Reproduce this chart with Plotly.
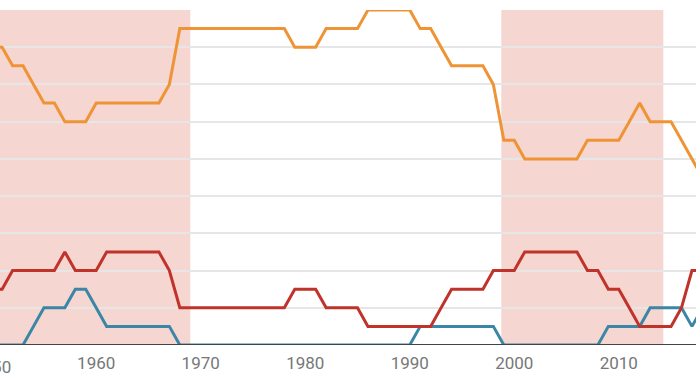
import plotly.graph_objects as go

years = list(range(1950, 2019))

orange = [16, 16, 15, 15, 14, 13, 13, 12, 12, 12,   # 1950-1959
          13, 13, 13, 13, 13, 13, 13, 14, 17, 17,   # 1960-1969
          17, 17, 17, 17, 17, 17, 17, 17, 17, 16,   # 1970-1979
          16, 16, 17, 17, 17, 17, 18, 18, 18, 18,   # 1980-1989
          18, 17, 17, 16, 15, 15, 15, 15, 14, 11,   # 1990-1999
          11, 10, 10, 10, 10, 10, 10, 11, 11, 11,   # 2000-2009
          11, 12, 13, 12, 12, 12, 11, 10, 9]        # 2010-2018

red = [3, 3, 4, 4, 4, 4, 4, 5, 4, 4,
       4, 5, 5, 5, 5, 5, 5, 4, 2, 2,
       2, 2, 2, 2, 2, 2, 2, 2, 2, 3,
       3, 3, 2, 2, 2, 2, 1, 1, 1, 1,
       1, 1, 1, 2, 3, 3, 3, 3, 4, 4,
       4, 5, 5, 5, 5, 5, 5, 4, 4, 3,
       3, 2, 1, 1, 1, 1, 2, 4, 4]

blue = [0, 0, 0, 0, 1, 2, 2, 2, 3, 3,
        2, 1, 1, 1, 1, 1, 1, 1, 0, 0,
        0, 0, 0, 0, 0, 0, 0, 0, 0, 0,
        0, 0, 0, 0, 0, 0, 0, 0, 0, 0,
        0, 1, 1, 1, 1, 1, 1, 1, 1, 0,
        0, 0, 0, 0, 0, 0, 0, 0, 0, 1,
        1, 1, 1, 2, 2, 2, 2, 1, 2]

shaded_periods = [(1940, 1969), (1998.76, 2014.26)]
tick_years = [1950, 1960, 1970, 1980, 1990, 2000, 2010, 2020]
tick_labels = [str(y) for y in tick_years]

x_range = [1950.796, 2017.387]
y_max = 18
tick_font = dict(family="Roboto", size=17, color="#777777")

fig = go.Figure()
fig.add_trace(go.Scatter(x=years, y=blue, mode="lines",
                         line=dict(color="#3b86a6", width=3), hoverinfo="skip"))
fig.add_trace(go.Scatter(x=years, y=red, mode="lines",
                         line=dict(color="#c0332b", width=3), hoverinfo="skip"))
fig.add_trace(go.Scatter(x=years, y=orange, mode="lines",
                         line=dict(color="#ef9436", width=3), hoverinfo="skip"))

shapes = []
for x0, x1 in shaded_periods:
    shapes.append(dict(type="rect", xref="x", yref="y", x0=x0, x1=x1, y0=0, y1=y_max,
                       fillcolor="#f5d6d0", line=dict(width=0), layer="below"))
shapes.append(dict(type="line", xref="paper", yref="y", x0=0, x1=1, y0=0, y1=0,
                   line=dict(color="#444444", width=2), layer="above"))

# the 1950 tick sits just left of the visible range; place its label in paper coords
span = x_range[1] - x_range[0]
annotations = [dict(x=(tick_years[0] - x_range[0]) / span, y=0, xref="paper", yref="y",
                    text=tick_labels[0], showarrow=False, xanchor="center",
                    yanchor="top", yshift=-10, font=tick_font)]

fig.update_layout(
    width=696, height=385,
    margin=dict(l=0, r=0, t=10, b=40),
    paper_bgcolor="white", plot_bgcolor="white",
    showlegend=False,
    shapes=shapes,
    annotations=annotations,
    xaxis=dict(range=x_range, tickvals=tick_years[1:], ticktext=tick_labels[1:],
               showgrid=False, zeroline=False, showline=False, ticks="",
               tickfont=tick_font, ticklabelstandoff=6),
    yaxis=dict(range=[0, y_max], dtick=2, showgrid=True, gridcolor="#e6e6e6",
               gridwidth=1.5, zeroline=False, showticklabels=False, ticks=""),
)

fig.write_html("out.html", config={"displayModeBar": False},
               post_script="document.body.style.margin='0';document.body.style.overflow='hidden';")
